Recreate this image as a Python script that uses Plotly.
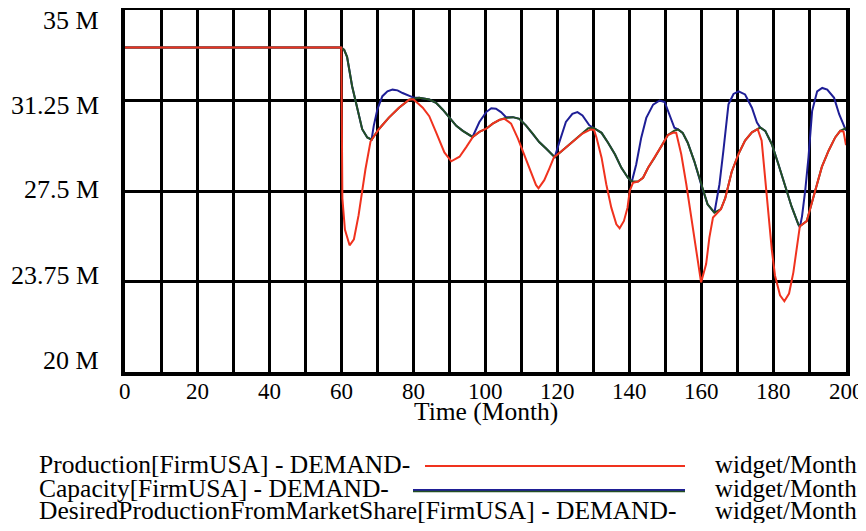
import plotly.graph_objects as go

# ---------------- data ----------------
prod_t = [0, 60, 60.3, 61.0, 62.3, 63.5, 64.8, 66.7, 68.1, 70.4, 73.2, 76, 78.8, 80, 82.6, 84.4,
          86.3, 88.6, 90.5, 92.8, 94.7, 96.5, 98.3, 100.2, 102, 103.9, 105.3, 107.1, 109, 110.8,
          112.6, 114, 114.7, 116.3, 117.7, 119, 121.4, 124.1, 126.9, 129.2, 130.1, 130.8, 132.2,
          133.5, 134.9, 136.3, 137.2, 138.4, 139.4, 140, 140.9, 142.3, 143.7, 145.1, 146.9, 148.8,
          150.6, 152, 152.9, 154.3, 155.7, 157.1, 158.5, 159.8, 161.2, 162.1, 163.1, 164, 165.3,
          166.5, 168.3, 170.2, 172, 173.9, 175.5, 176.6, 177.6, 178.5, 179.4, 180.3, 181.7, 182.9,
          184.2, 185.4, 186.3, 187.2, 189.1, 190.5, 191.9, 193.3, 195.2, 197, 198.4, 199.3, 200]
prod_v = [33.45, 33.45, 27.2, 25.9, 25.25, 25.5, 26.5, 28.4, 29.55, 30.06, 30.54, 30.95, 31.28, 31.3,
          30.95, 30.6, 29.93, 29.1, 28.73, 28.92, 29.33, 29.74, 29.95, 30.08, 30.29, 30.45, 30.49,
          30.29, 29.67, 28.98, 28.3, 27.75, 27.61, 27.95, 28.43, 28.9, 29.19, 29.53, 29.88, 30.05,
          30.03, 29.71, 28.88, 27.78, 26.81, 26.12, 25.96, 26.26, 26.81, 27.5, 27.84, 27.89, 28.05,
          28.46, 28.88, 29.36, 29.82, 29.91, 29.91, 29.02, 27.78, 26.4, 24.88, 23.71, 24.47, 25.57,
          26.4, 26.55, 26.75, 27.2, 28.3, 29.04, 29.59, 29.93, 30.06, 29.59, 27.95, 26.59, 25.09,
          24.0, 23.18, 22.93, 23.25, 24.13, 25.09, 26.04, 26.25, 27.0, 27.68, 28.5, 29.18, 29.72,
          29.99, 29.97, 29.4]

desired_t = [0, 60, 60.8, 61.6, 63, 64.4, 65.8, 67.2, 68.4, 70.4, 73.2, 76, 78.8, 80, 81.6, 84.4,
             86.3, 88.1, 90, 91.9, 93.7, 95.1, 96.4, 98.3, 100.2, 102, 103.9, 105.3, 107.6, 109.4,
             111.2, 113.1, 114.9, 116.8, 118.6, 119.2, 121.4, 124.1, 126.9, 128.5, 129.9, 132.2,
             134, 135.9, 137.7, 139.5, 140.6, 142.3, 143.7, 145.1, 146.9, 148.8, 150.6, 152.4,
             153.4, 154.7, 156.1, 157.9, 159.8, 161.6, 163.5, 165.3, 166.5, 168.3, 170.2, 172,
             173.9, 175.5, 176.2, 177.6, 179.4, 181.2, 183.1, 184.9, 186.8, 187.2, 189.1, 190.5,
             191.9, 193.3, 195.2, 197, 198.4, 200]
desired_v = [33.45, 33.45, 33.35, 33.06, 31.84, 30.88, 30.06, 29.72, 29.63, 30.06, 30.54, 30.95,
             31.28, 31.32, 31.36, 31.29, 31.15, 30.88, 30.54, 30.2, 29.99, 29.86, 29.74, 29.95,
             30.08, 30.29, 30.45, 30.52, 30.56, 30.49, 30.22, 29.88, 29.53, 29.26, 28.98, 28.9,
             29.19, 29.53, 29.88, 30.1, 30.12, 29.91, 29.5, 29.02, 28.46, 28.05, 27.89, 27.89,
             28.05, 28.46, 28.88, 29.36, 29.82, 30.0, 30.05, 29.91, 29.5, 28.74, 27.78, 26.95,
             26.6, 26.75, 27.2, 28.3, 29.04, 29.59, 29.93, 30.08, 30.13, 29.99, 29.45, 28.63,
             27.68, 26.86, 26.11, 26.04, 26.25, 27.0, 27.68, 28.5, 29.18, 29.72, 29.99, 30.1]

capacity_t = [0, 60, 60.8, 61.6, 63, 64.4, 65.8, 67.2, 68.4, 69, 70, 71.4, 72.8, 74.2, 75.6, 77,
              78.8, 80.2, 81.6, 84.4, 86.3, 88.1, 90, 91.9, 93.7, 95.1, 96.4, 98.3, 100.2, 101.6,
              102.9, 104.3, 105.7, 107.6, 109.4, 111.2, 113.1, 114.9, 116.8, 118.6, 119.2, 120.5,
              122.3, 124.1, 125.5, 126.9, 128.8, 129.9, 132.2, 134, 135.9, 137.7, 139.5, 140.6,
              141.8, 143.2, 144.6, 146.5, 148.3, 149.7, 151, 152.4, 153.4, 154.7, 156.1, 157.9,
              159.8, 161.6, 163.5, 164.9, 166, 167.4, 168.8, 170.2, 172, 173.9, 175.3, 176.2,
              177.6, 179.4, 181.2, 183.1, 184.9, 186.8, 187.2, 187.8, 188.7, 189.6, 190.6, 192,
              193.4, 194.8, 196.7, 198.1, 199.5, 200]
capacity_v = [33.45, 33.45, 33.35, 33.06, 31.84, 30.88, 30.06, 29.72, 29.63, 30.2, 30.88, 31.43,
              31.63, 31.7, 31.67, 31.56, 31.43, 31.36, 31.36, 31.29, 31.15, 30.88, 30.54, 30.2,
              29.99, 29.86, 29.74, 30.36, 30.77, 30.93, 30.91, 30.77, 30.56, 30.56, 30.49, 30.22,
              29.88, 29.53, 29.26, 28.98, 28.9, 29.53, 30.36, 30.7, 30.77, 30.63, 30.22, 30.12,
              29.91, 29.5, 29.02, 28.46, 28.05, 27.89, 28.6, 29.71, 30.53, 31.08, 31.25, 31.19,
              30.67, 30.12, 30.05, 29.91, 29.5, 28.74, 27.78, 26.95, 26.6, 27.78, 29.18, 31.09,
              31.52, 31.63, 31.5, 30.95, 30.34, 30.13, 29.99, 29.45, 28.63, 27.68, 26.86, 26.11,
              26.0, 26.45, 27.54, 28.9, 30.81, 31.63, 31.77, 31.7, 31.36, 30.68, 30.2, 30.0]

x_ticks = list(range(0, 201, 10))
x_tick_labels = [str(v) for v in range(0, 201, 20)]
y_ticks = [20, 23.75, 27.5, 31.25, 35]
y_tick_labels = ["20 M", "23.75 M", "27.5 M", "31.25 M", "35 M"]

series_names = ["Production[FirmUSA] - DEMAND-", "Capacity[FirmUSA] - DEMAND-",
                "DesiredProductionFromMarketShare[FirmUSA] - DEMAND-"]
unit_label = "widget/Month"
x_title = "Time (Month)"

# ---------------- styling / layout ----------------
RED, BLUE, GREEN = "#F0321E", "#1E1E96", "#234F23"
FONT = "Liberation Serif"
OFF = 8                      # default page body margin
W, H = 850, 515
L, T = 125 - OFF, 10 - OFF
R = W - (846 - OFF)
B = H - (372 - OFF)
plot_h = H - T - B
plot_w = W - L - R


def px2paper(sx):
    return (sx - OFF - L) / plot_w


def py2paper(sy):
    return (T + plot_h - (sy - OFF)) / plot_h


fig = go.Figure()
fig.add_trace(go.Scatter(x=capacity_t, y=[v * 1e6 for v in capacity_v], mode="lines",
                         line=dict(color=BLUE, width=2), name=series_names[1]))
fig.add_trace(go.Scatter(x=desired_t, y=[v * 1e6 for v in desired_v], mode="lines",
                         line=dict(color=GREEN, width=2), name=series_names[2]))
fig.add_trace(go.Scatter(x=prod_t, y=[v * 1e6 for v in prod_v], mode="lines",
                         line=dict(color=RED, width=2), name=series_names[0]))

fig.update_layout(
    template="none",
    width=W, height=H, margin=dict(l=L, r=R, t=T, b=B, autoexpand=False),
    paper_bgcolor="white", plot_bgcolor="white", showlegend=False, hovermode=False,
    font=dict(family=FONT, size=25, color="black"),
    xaxis=dict(range=[0, 200], tickvals=x_ticks, showticklabels=False, showgrid=True,
               gridcolor="black", gridwidth=2.5, zeroline=False, showline=True, linecolor="black",
               linewidth=4, mirror=True, ticks="", automargin=False),
    yaxis=dict(range=[20e6, 35e6], tickvals=[v * 1e6 for v in y_ticks], showticklabels=False,
               showgrid=True, gridcolor="black", gridwidth=2.5, zeroline=False, showline=True,
               linecolor="black", linewidth=4, mirror=True, ticks="", automargin=False),
)

annotations = []
# y tick labels (spread as in the reference)
label_centers_px = [360, 275, 190, 105, 20]
for lab, cy in zip(y_tick_labels, label_centers_px):
    annotations.append(dict(text=lab, xref="paper", yref="paper", x=0, y=py2paper(cy),
                            xanchor="right", yanchor="middle", xshift=-24, showarrow=False,
                            font=dict(family=FONT, size=26)))
# x tick labels
for lab in x_tick_labels:
    annotations.append(dict(text=lab, xref="x", yref="paper", x=float(lab), y=py2paper(391),
                            xanchor="center", yanchor="middle", showarrow=False,
                            font=dict(family=FONT, size=23)))
annotations.append(dict(text=x_title, xref="paper", yref="paper", x=0.5, y=py2paper(411),
                        xanchor="center", yanchor="middle", showarrow=False,
                        font=dict(family=FONT, size=25.5)))
legend_centers = [464, 488, 510]
for name, cy in zip(series_names, legend_centers):
    annotations.append(dict(text=name, xref="paper", yref="paper", x=px2paper(37), y=py2paper(cy),
                            xanchor="left", yanchor="middle", showarrow=False,
                            font=dict(family=FONT, size=25.5)))
    annotations.append(dict(text=unit_label, xref="paper", yref="paper", x=px2paper(713),
                            y=py2paper(cy), xanchor="left", yanchor="middle", showarrow=False,
                            font=dict(family=FONT, size=25)))
fig.update_layout(annotations=annotations)

shapes = [
    dict(type="line", xref="paper", yref="paper", x0=px2paper(425), x1=px2paper(685),
         y0=py2paper(466), y1=py2paper(466), line=dict(color=RED, width=2)),
    dict(type="line", xref="paper", yref="paper", x0=px2paper(413), x1=px2paper(685),
         y0=py2paper(490), y1=py2paper(490), line=dict(color=BLUE, width=2)),
    dict(type="line", xref="paper", yref="paper", x0=px2paper(413), x1=px2paper(685),
         y0=py2paper(491.5), y1=py2paper(491.5), line=dict(color=GREEN, width=1.5)),
]
fig.update_layout(shapes=shapes)

fig.write_html("out.html", config={"displayModeBar": False})
